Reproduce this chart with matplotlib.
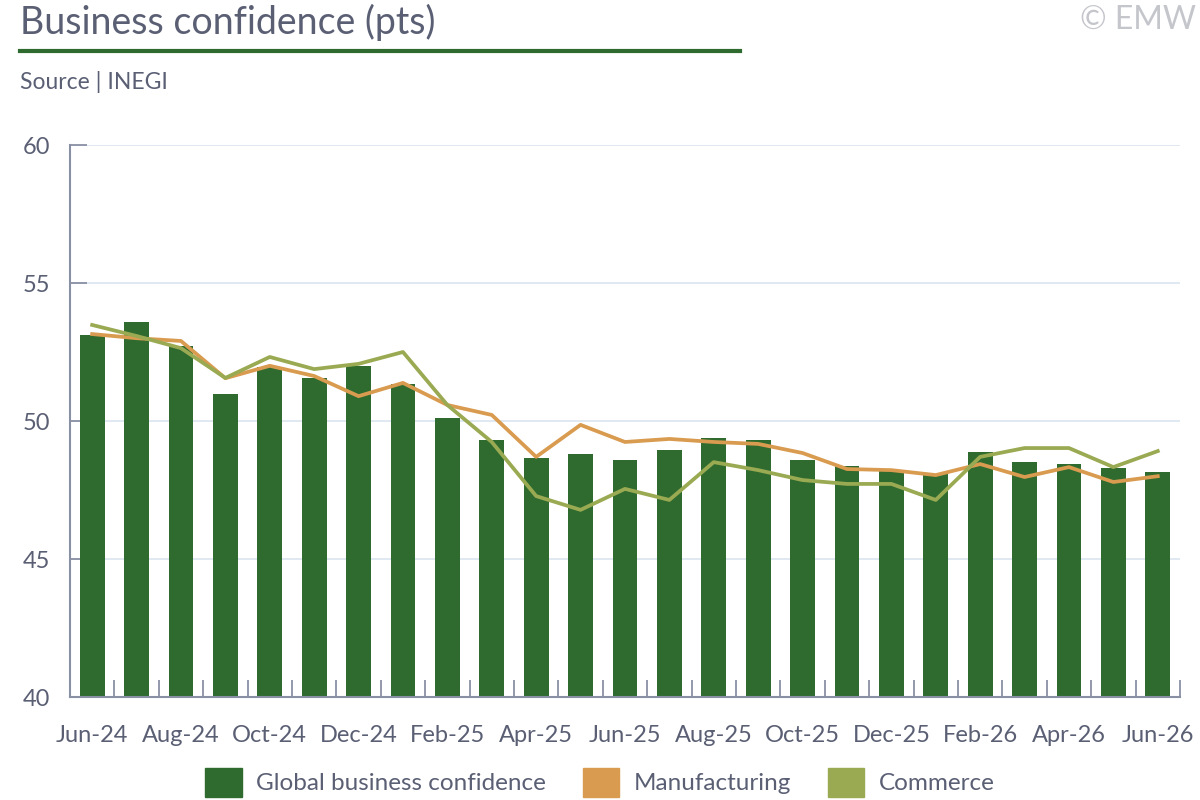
import numpy as np
import matplotlib.pyplot as plt
from matplotlib.patches import Patch

months = ['Jun-24', 'Jul-24', 'Aug-24', 'Sep-24', 'Oct-24', 'Nov-24', 'Dec-24',
          'Jan-25', 'Feb-25', 'Mar-25', 'Apr-25', 'May-25', 'Jun-25', 'Jul-25',
          'Aug-25', 'Sep-25', 'Oct-25', 'Nov-25', 'Dec-25', 'Jan-26', 'Feb-26',
          'Mar-26', 'Apr-26', 'May-26', 'Jun-26']
global_conf = [53.12, 53.59, 52.72, 50.98, 51.96, 51.56, 51.99, 51.34, 50.11,
               49.31, 48.66, 48.80, 48.59, 48.95, 49.38, 49.31, 48.59, 48.37,
               48.22, 48.08, 48.88, 48.51, 48.44, 48.30, 48.15]
manufacturing = [53.15, 53.00, 52.90, 51.55, 52.00, 51.63, 50.90, 51.38, 50.58,
                 50.22, 48.70, 49.86, 49.24, 49.35, 49.24, 49.17, 48.84, 48.26,
                 48.22, 48.04, 48.44, 47.97, 48.33, 47.79, 48.00]
commerce = [53.48, 53.08, 52.64, 51.56, 52.32, 51.88, 52.07, 52.50, 50.58,
            49.24, 47.28, 46.78, 47.54, 47.14, 48.51, 48.22, 47.86, 47.72,
            47.72, 47.14, 48.70, 49.02, 49.02, 48.33, 48.91]

GREEN = '#2f6b2f'
ORANGE = '#d99b4f'
OLIVE = '#9aaa52'
TEXT = '#5a5f74'
AXIS = '#8a90a4'

plt.rcParams['font.family'] = ['Lato', 'DejaVu Sans']

fig = plt.figure(figsize=(12, 8), dpi=100)
ax = fig.add_axes([0.0583, 0.12875, 0.925, 0.69])

x = np.arange(len(months))
ax.bar(x, global_conf, width=0.56, color=GREEN, zorder=2)
ax.plot(x, manufacturing, color=ORANGE, lw=2.7, zorder=3)
ax.plot(x, commerce, color=OLIVE, lw=2.7, zorder=4)

ax.set_xlim(-0.5, len(months) - 0.5)
ax.set_ylim(40, 60)
ax.set_yticks([40, 45, 50, 55, 60])
ax.yaxis.grid(True, color='#dde6f0', lw=1.3, zorder=0)
ax.set_axisbelow(True)

ax.set_xticks(x[::2])
ax.set_xticklabels(months[::2])
ax.set_xticks(np.arange(-0.5, len(months), 1), minor=True)
ax.tick_params(axis='x', which='major', length=0, pad=20, labelsize=17, labelcolor=TEXT)
ax.tick_params(axis='x', which='minor', direction='in', length=12, width=1.3, color=AXIS)
ax.tick_params(axis='y', direction='in', length=12, width=1.3, color=AXIS,
               pad=14, labelsize=17, labelcolor=TEXT)

for s in ['top', 'right']:
    ax.spines[s].set_visible(False)
for s in ['left', 'bottom']:
    ax.spines[s].set_color(AXIS)
    ax.spines[s].set_linewidth(1.5)

fig.text(0.017, 0.972, 'Business confidence (pts)', fontsize=27, color=TEXT, va='center')
fig.add_artist(plt.Line2D([0.017, 0.617], [0.936, 0.936], color=GREEN, lw=3))
fig.text(0.017, 0.898, 'Source | INEGI', fontsize=16.5, color=TEXT, va='center')
fig.text(0.997, 0.975, '© EMW', fontsize=23, color='#c4c6cc', ha='right', va='center')

handles = [Patch(color=GREEN), Patch(color=ORANGE), Patch(color=OLIVE)]
fig.legend(handles, ['Global business confidence', 'Manufacturing', 'Commerce'],
           loc='center', bbox_to_anchor=(0.5, 0.022), ncol=3, frameon=False,
           fontsize=17.5, labelcolor=TEXT, handlelength=1.5, handleheight=1.5,
           handletextpad=0.6, columnspacing=1.5)

fig.savefig('out.png', dpi=100)
